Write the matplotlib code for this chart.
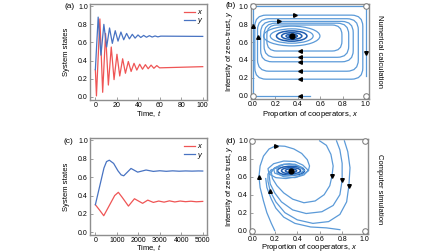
import matplotlib
matplotlib.use('Agg')
import matplotlib.pyplot as plt
from matplotlib.patches import Ellipse, FancyBboxPatch
from matplotlib.ticker import FormatStrFormatter

plt.rcParams['font.family'] = ['Liberation Sans', 'DejaVu Sans']
plt.rcParams['font.size'] = 5
plt.rcParams['mathtext.fontset'] = 'custom'
plt.rcParams['mathtext.it'] = 'Liberation Sans:italic'
plt.rcParams['mathtext.rm'] = 'Liberation Sans'

RED = '#ef5555'
BLUE = '#4873c2'
LIGHT = '#5b9ad8'
DARK = '#1d5cb0'
FRAME = '#8e8e8e'

# (a) numerical time series: peaks and troughs
t_a_x = [0, 1.0, 4.2, 6.8, 9.5, 12.1, 14.8, 17.4, 20.1, 22.7, 25.4, 28.0, 30.7,
         33.3, 36.0, 38.6, 41.3, 43.9, 46.6, 49.2, 51.9, 54.5, 57.2, 59.8, 100]
x_a = [0.30, 0.01, 0.86, 0.05, 0.70, 0.13, 0.55, 0.19, 0.47, 0.23, 0.42, 0.26, 0.39,
       0.28, 0.37, 0.295, 0.36, 0.305, 0.355, 0.31, 0.35, 0.315, 0.345, 0.32, 0.333]
t_a_y = [0, 2.6, 5.2, 7.9, 10.5, 13.2, 15.8, 18.5, 21.1, 23.8, 26.4, 29.1, 31.7,
         34.4, 37.0, 39.7, 42.3, 45.0, 47.6, 50.3, 52.9, 55.6, 58.2, 60.9, 100]
y_a = [0.30, 0.88, 0.46, 0.80, 0.55, 0.76, 0.59, 0.73, 0.615, 0.715, 0.63, 0.70, 0.64,
       0.69, 0.648, 0.683, 0.655, 0.678, 0.658, 0.675, 0.660, 0.672, 0.662, 0.670, 0.667]

# (c) simulated time series
t_c_x = [0, 200, 390, 600, 900, 1070, 1250, 1540, 1820, 2200, 2440, 2700, 2950,
         3200, 3450, 3700, 3950, 4200, 4450, 4700, 5000]
x_c = [0.30, 0.24, 0.18, 0.27, 0.40, 0.435, 0.38, 0.285, 0.365, 0.315, 0.35, 0.325, 0.34,
       0.328, 0.342, 0.33, 0.34, 0.333, 0.338, 0.332, 0.336]
t_c_y = [0, 200, 400, 520, 650, 850, 1050, 1200, 1320, 1660, 1970, 2360, 2700, 3000,
         3300, 3600, 3900, 4200, 4500, 4800, 5000]
y_c = [0.30, 0.50, 0.70, 0.77, 0.785, 0.75, 0.67, 0.625, 0.615, 0.695, 0.655, 0.678,
       0.663, 0.67, 0.664, 0.669, 0.665, 0.668, 0.666, 0.668, 0.667]

# (b) numerical phase portrait
fixed_pt = (0.345, 0.667)
corners = [(0, 0), (0, 1), (1, 0), (1, 1)]
edge_x = [0.51, 0.0, 0.0, 1.0, 1.0]
edge_y = [0.0, 0.0, 1.0, 1.0, 0.22]
loop_left = [0.018, 0.042, 0.07, 0.10, 0.125]
loop_right = [0.975, 0.935, 0.89, 0.85, 0.79]
loop_bottom = [0.186, 0.275, 0.38, 0.43, 0.50]
loop_top = [0.90, 0.86, 0.83, 0.81, 0.79]
ell_w = [0.50, 0.38, 0.27, 0.18, 0.10, 0.05]
ell_h = [0.22, 0.16, 0.115, 0.075, 0.04, 0.02]
arrows_b = [(0.42, 0.0, '<'), (0.42, 0.186, '<'), (0.42, 0.275, '<'), (0.42, 0.38, '<'),
            (0.42, 0.43, '<'), (0.42, 0.50, '<'), (0.37, 0.90, '>'), (0.23, 0.83, '>'),
            (0.0, 0.78, '^'), (0.042, 0.66, '^'), (1.0, 0.48, 'v')]

# (d) simulated trajectories
sim_left = [(0.20, 0.0), (0.17, 0.08), (0.13, 0.2), (0.10, 0.33), (0.07, 0.48), (0.06, 0.60),
            (0.07, 0.72), (0.10, 0.83), (0.15, 0.91), (0.21, 0.945), (0.29, 0.94), (0.37, 0.91),
            (0.44, 0.86), (0.49, 0.79), (0.51, 0.72), (0.50, 0.67), (0.46, 0.62), (0.38, 0.59),
            (0.28, 0.60), (0.22, 0.64), (0.22, 0.70), (0.28, 0.74), (0.38, 0.74), (0.45, 0.70)]
sim_r1 = [(0.60, 1.0), (0.66, 0.95), (0.70, 0.85), (0.72, 0.72), (0.71, 0.61), (0.69, 0.50),
          (0.64, 0.40), (0.56, 0.33), (0.46, 0.31), (0.36, 0.35), (0.28, 0.42), (0.22, 0.50),
          (0.18, 0.58), (0.17, 0.65), (0.20, 0.70), (0.27, 0.73)]
sim_r2 = [(0.75, 1.0), (0.78, 0.90), (0.80, 0.75), (0.80, 0.56), (0.78, 0.40), (0.72, 0.28),
          (0.62, 0.21), (0.48, 0.19), (0.36, 0.23), (0.26, 0.32), (0.20, 0.42), (0.16, 0.52),
          (0.15, 0.62), (0.18, 0.68), (0.24, 0.71)]
sim_r3 = [(0.82, 1.0), (0.85, 0.88), (0.87, 0.70), (0.86, 0.50), (0.84, 0.32), (0.78, 0.18),
          (0.68, 0.10), (0.54, 0.08), (0.40, 0.12), (0.29, 0.20), (0.21, 0.32), (0.16, 0.44),
          (0.14, 0.55), (0.14, 0.63), (0.17, 0.68)]
sim_bottom = [(0.78, 0.01), (0.66, 0.03), (0.52, 0.04), (0.38, 0.08), (0.28, 0.15), (0.21, 0.25),
              (0.17, 0.35), (0.13, 0.48), (0.12, 0.58)]
drop_1 = [(0.50, 0.67), (0.45, 0.73), (0.38, 0.77), (0.28, 0.775), (0.19, 0.745), (0.14, 0.69),
          (0.15, 0.63), (0.21, 0.59), (0.30, 0.58), (0.40, 0.60), (0.47, 0.64), (0.50, 0.67)]
drop_2 = [(0.46, 0.67), (0.41, 0.72), (0.33, 0.745), (0.25, 0.73), (0.19, 0.69), (0.20, 0.64),
          (0.27, 0.61), (0.36, 0.615), (0.43, 0.64), (0.46, 0.67)]
eye_w = [0.24, 0.17, 0.10]
eye_h = [0.10, 0.07, 0.04]
arrows_d = [(0.21, 0.945, '>'), (0.06, 0.60, '^'), (0.16, 0.44, '^'),
            (0.71, 0.61, 'v'), (0.80, 0.56, 'v'), (0.86, 0.50, 'v')]


def style_axes(ax):
    for s in ax.spines.values():
        s.set_color(FRAME)
        s.set_linewidth(1.0)
    ax.tick_params(direction='in', length=2, width=0.6, color=FRAME, pad=1.5, labelsize=5)
    ax.yaxis.set_major_formatter(FormatStrFormatter('%.1f'))


def time_panel(ax, tx, xs, ty, ys, xticks, xlim, label_y):
    ax.plot(tx, xs, color=RED, lw=0.9, label='x')
    ax.plot(ty, ys, color=BLUE, lw=0.9, label='y')
    ax.set_xlim(*xlim)
    ax.set_ylim(-0.03, 1.03)
    ax.set_xticks(xticks)
    ax.set_yticks([0, 0.2, 0.4, 0.6, 0.8, 1.0])
    style_axes(ax)
    ax.set_xlabel('Time, $t$', fontsize=5.5)
    ax.set_ylabel('System states', fontsize=5.5)
    ax.xaxis.set_label_coords(0.5, label_y)
    ax.yaxis.set_label_coords(-0.17, 0.5)
    ax.legend(loc='upper right', frameon=False, handlelength=1.4, handletextpad=0.4,
              labelspacing=0.1, borderaxespad=0.3, prop={'style': 'italic', 'size': 5.5})


def phase_frame(ax, label_y):
    ax.set_xlim(-0.02, 1.03)
    ax.set_ylim(-0.035, 1.024)
    ax.set_xticks([0, 0.2, 0.4, 0.6, 0.8, 1.0])
    ax.set_yticks([0, 0.2, 0.4, 0.6, 0.8, 1.0])
    style_axes(ax)
    ax.xaxis.set_major_formatter(FormatStrFormatter('%.1f'))
    ax.set_xlabel('Proportion of cooperators, $x$', fontsize=5.5)
    ax.set_ylabel('Intensity of zero-trust, $y$', fontsize=5.5)
    ax.xaxis.set_label_coords(0.5, label_y)
    ax.yaxis.set_label_coords(-0.13, 0.5)
    for cx, cy in corners:
        ax.plot(cx, cy, 'o', ms=4, mfc='white', mec='#777777', mew=0.7, clip_on=False, zorder=5)
    ax.plot(*fixed_pt, 'o', ms=3.5, color='black', zorder=6)


def draw_arrows(ax, arrows):
    for ax_x, ax_y, m in arrows:
        ax.plot(ax_x, ax_y, marker=m, ms=2.6, color='black', zorder=4, clip_on=False)


fig = plt.figure(figsize=(4.48, 2.52), dpi=100)
ax_a = fig.add_axes([0.2009, 0.605, 0.2612, 0.381])
ax_b = fig.add_axes([0.5592, 0.6071, 0.2645, 0.377])
ax_c = fig.add_axes([0.2009, 0.0675, 0.2612, 0.386])
ax_d = fig.add_axes([0.558, 0.0726, 0.2634, 0.377])

time_panel(ax_a, t_a_x, x_a, t_a_y, y_a, [0, 20, 40, 60, 80, 100], (-5, 104), -0.1)
time_panel(ax_c, t_c_x, x_c, t_c_y, y_c, [0, 1000, 2000, 3000, 4000, 5000], (-250, 5200), -0.085)

# (b) loops drawn as rounded boxes and ellipses
phase_frame(ax_b, -0.1)
ax_b.plot(edge_x, edge_y, color=LIGHT, lw=0.9)
for l, r, b, t in zip(loop_left, loop_right, loop_bottom, loop_top):
    h = t - b
    rs = min(0.3 * h, 0.1)
    box = FancyBboxPatch((l, b), r - l, h, boxstyle=f'round,pad=0,rounding_size={rs}',
                         mutation_aspect=1.25, fill=False, ec=LIGHT, lw=0.9)
    ax_b.add_patch(box)
for i, (w, h) in enumerate(zip(ell_w, ell_h)):
    c = LIGHT if i < 2 else DARK
    ax_b.add_patch(Ellipse(fixed_pt, w, h, fill=False, ec=c, lw=0.9 if i < 2 else 1.1))
draw_arrows(ax_b, arrows_b)

# (d) simulated trajectories
phase_frame(ax_d, -0.085)
for curve in [sim_left, sim_r1, sim_r2, sim_r3, sim_bottom, drop_1, drop_2]:
    xs, ys = zip(*curve)
    ax_d.plot(xs, ys, color=LIGHT, lw=0.9, solid_joinstyle='round')
for w, h in zip(eye_w, eye_h):
    ax_d.add_patch(Ellipse(fixed_pt, w, h, fill=False, ec=DARK, lw=1.1))
draw_arrows(ax_d, arrows_d)

fig.text(0.156, 0.976, '(a)', fontsize=6, ha='center', va='center')
fig.text(0.515, 0.98, '(b)', fontsize=6, ha='center', va='center')
fig.text(0.1525, 0.44, '(c)', fontsize=6, ha='center', va='center')
fig.text(0.515, 0.44, '(d)', fontsize=6, ha='center', va='center')
fig.text(0.846, 0.796, 'Numerical calculation', fontsize=5.5, rotation=270, ha='center', va='center')
fig.text(0.846, 0.25, 'Computer simulation', fontsize=5.5, rotation=270, ha='center', va='center')

fig.savefig('out.png', dpi=100)
